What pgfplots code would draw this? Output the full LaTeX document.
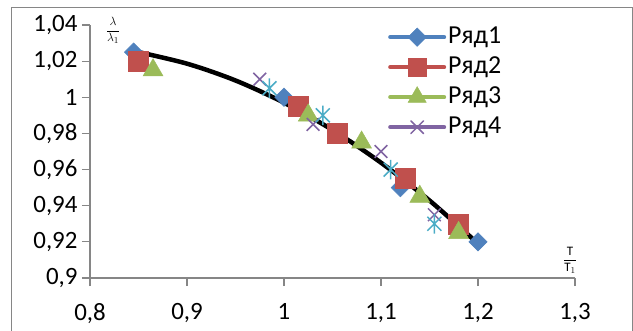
\documentclass[border=0pt]{standalone}
\usepackage{pgfplots}
\pgfplotsset{compat=1.18}
\usepackage{fontspec}
\setmainfont{Carlito}
\definecolor{sA}{HTML}{4F81BD}
\definecolor{sB}{HTML}{C0504D}
\definecolor{sC}{HTML}{9BBB59}
\definecolor{sD}{HTML}{8064A2}
\definecolor{sE}{HTML}{4BACC6}
\definecolor{axgray}{HTML}{868686}
\pgfdeclareplotmark{xast}{%
  \pgfpathmoveto{\pgfqpoint{-\pgfplotmarksize}{-\pgfplotmarksize}}%
  \pgfpathlineto{\pgfqpoint{\pgfplotmarksize}{\pgfplotmarksize}}%
  \pgfpathmoveto{\pgfqpoint{-\pgfplotmarksize}{\pgfplotmarksize}}%
  \pgfpathlineto{\pgfqpoint{\pgfplotmarksize}{-\pgfplotmarksize}}%
  \pgfpathmoveto{\pgfqpoint{0pt}{-1.4\pgfplotmarksize}}%
  \pgfpathlineto{\pgfqpoint{0pt}{1.4\pgfplotmarksize}}%
  \pgfusepathqstroke}
\begin{document}
\begin{tikzpicture}
\useasboundingbox (-90bp,-53bp) rectangle (543bp,278bp);
\draw[axgray, line width=1bp] (-78bp,-53bp) -- (-78bp,270bp) -- (542bp,270bp) -- (542bp,-53bp);
\begin{axis}[
  at={(0,0)}, anchor=south west,
  scale only axis, width=485bp, height=253bp,
  xmin=0.8, xmax=1.3, ymin=0.9, ymax=1.04,
  xtick={0.8,0.9,1.0,1.1,1.2,1.3},
  ytick={0.9,0.92,0.94,0.96,0.98,1.0,1.02,1.04},
  axis x line=bottom, axis y line=left,
  axis line style={-, axgray, line width=1.2bp},
  tick style={axgray, line width=1.2bp},
  tick align=outside, major tick length=8bp,
  /pgf/number format/use comma,
  /pgf/number format/assume math mode=true,
  /pgf/number format/fixed,
  /pgf/number format/precision=2,
  ticklabel style={font=\fontsize{25}{28}\selectfont},
  xticklabel style={yshift=-14bp},
  yticklabel style={xshift=-1bp},
  clip=false,
  legend style={draw=none, fill=none, at={(0.6144,1.012)}, anchor=north west,
    font=\fontsize{26}{28}\selectfont, inner sep=0pt,
    nodes={inner sep=2bp, text height=19bp, text depth=7bp}},
  legend cell align=left,
  legend image code/.code={\draw[#1] (0bp,0bp) -- (54bp,0bp); \draw[#1] plot coordinates {(27bp,0bp)};},
]
\addlegendimage{sA, line width=4bp, line cap=round, mark=square*, mark size=6.5bp, mark options={rotate=45, solid, line width=0.5bp, fill=sA}}
\addlegendentry{Ряд1}
\addlegendimage{sB, line width=4bp, line cap=round, mark=square*, mark size=9bp, mark options={solid, line width=0.5bp, fill=sB}}
\addlegendentry{Ряд2}
\addlegendimage{sC, line width=4bp, line cap=round, mark=triangle*, mark size=10.5bp, mark options={solid, line width=0.5bp, fill=sC}}
\addlegendentry{Ряд3}
\addlegendimage{sD, line width=4bp, line cap=round, mark=x, mark size=9bp, mark options={solid, line width=1.5bp}}
\addlegendentry{Ряд4}

\addplot[forget plot, only marks, mark=square*, mark size=6.5bp, mark options={rotate=45, draw=sA, fill=sA, line width=0.5bp}]
  coordinates {(0.845,1.025) (1.0,1.0) (1.12,0.95) (1.2,0.92)};
\addplot[forget plot, only marks, mark=square*, mark size=10bp, mark options={draw=sB, fill=sB, line width=0.5bp}]
  coordinates {(0.85,1.02) (1.015,0.995) (1.055,0.98) (1.125,0.955) (1.18,0.93)};
\addplot[forget plot, only marks, mark=triangle*, mark size=11.5bp, mark options={draw=sC, fill=sC, line width=0.5bp}]
  coordinates {(0.865,1.015) (1.025,0.99) (1.08,0.975) (1.14,0.945) (1.18,0.925)};
\addplot[forget plot, only marks, mark=x, mark size=9bp, mark options={draw=sD, line width=1.5bp}]
  coordinates {(0.975,1.01) (1.03,0.985) (1.1,0.97) (1.155,0.935)};
\addplot[forget plot, only marks, mark=xast, mark size=7bp, mark options={draw=sE, line width=1.5bp}]
  coordinates {(0.985,1.005) (1.04,0.99) (1.11,0.96) (1.155,0.93)};
\addplot[forget plot, black, line width=4.5bp, smooth]
  coordinates {(0.845,1.0256) (0.9,1.0186) (0.95,1.0093) (1.0,0.997) (1.05,0.9819) (1.1,0.9638) (1.15,0.9429) (1.2,0.9190)};

\node at (axis cs:0.8238,1.0369) {\fontsize{13}{15}\selectfont$\displaystyle\frac{\lambda}{\lambda_1}$};
\node at (axis cs:1.2948,0.9099) {\fontsize{13}{15}\selectfont$\displaystyle\frac{\mathrm{T}}{\mathrm{T}_1}$};
\end{axis}
\end{tikzpicture}
\end{document}
